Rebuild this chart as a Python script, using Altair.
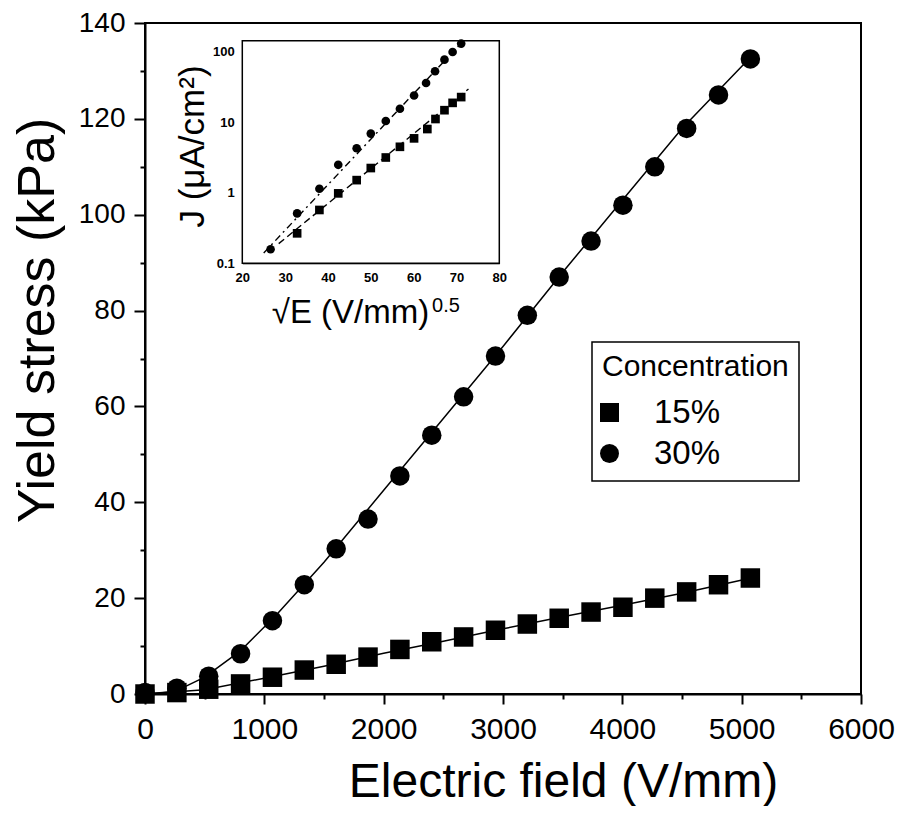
import altair as alt
import pandas as pd

# ---------------- main panel data ----------------
E = [0, 267, 534, 801, 1068, 1335, 1602, 1869, 2136, 2403,
     2670, 2937, 3204, 3471, 3738, 4005, 4272, 4539, 4806, 5073]
tau_15 = [0.0, 0.3, 1.0, 2.1, 3.5, 5.0, 6.2, 7.7, 9.3, 10.9,
          11.9, 13.3, 14.6, 15.8, 17.1, 18.1, 20.0, 21.3, 22.8, 24.2]
tau_30 = [0.3, 1.2, 3.7, 8.4, 15.3, 22.8, 30.3, 36.5, 45.5, 54.0,
          62.0, 70.5, 79.0, 87.0, 94.5, 102.0, 110.0, 118.0, 125.0, 132.5]

fit15_E = [0, 500, 1000, 1500, 2000, 2500, 3000, 3500, 4000, 4500, 5080]
fit15_tau = [0.0, 0.9, 3.3, 5.8, 8.5, 11.0, 13.6, 16.1, 18.5, 21.0, 24.2]
fit30_E = [0, 250, 500, 800, 1100, 1500, 2000, 2500, 3000, 3500, 4000, 4500, 5080]
fit30_tau = [0.0, 0.5, 3.5, 9.0, 16.5, 27.5, 42.5, 57.5, 72.5, 88.0, 103.0, 118.0, 133.0]

# ---------------- inset data ----------------
sqrtE_30 = [26.6, 32.8, 38.0, 42.4, 46.7, 50.0, 53.5, 56.8, 60.1, 62.9, 65.0, 67.2, 69.1, 71.1]
J_30 = [0.158, 0.51, 1.14, 2.49, 4.27, 6.9, 10.4, 15.5, 23.9, 36.0, 52.7, 77.0, 99.0, 130.0]
sqrtE_15 = [32.8, 38.0, 42.4, 46.7, 50.0, 53.5, 56.8, 60.1, 63.2, 65.1, 67.2, 69.1, 71.1]
J_15 = [0.266, 0.57, 0.98, 1.51, 2.24, 3.16, 4.48, 5.9, 8.0, 11.1, 14.8, 18.8, 22.7]

fitJ30_x = [25.0, 71.5]
fitJ30_y = [0.14, 140.0]
fitJ15_x = [28.5, 72.8]
fitJ15_y = [0.19, 29.5]

inset_x_dom = [20, 80]
inset_y_dom = [0.1, 143]

# superscript of the inset x title, anchored in inset data units
sup_text = ["0.5"]
sup_x = [64.3]
sup_y = [0.0205]

concs = ["15%", "30%"]

# ---------------- tables ----------------
main_pts = pd.DataFrame({
    "E": E + E,
    "tau": tau_15 + tau_30,
    "conc": [concs[0]] * len(E) + [concs[1]] * len(E),
})
main_fit = pd.DataFrame({
    "E": fit15_E + fit30_E,
    "tau": fit15_tau + fit30_tau,
    "conc": [concs[0]] * len(fit15_E) + [concs[1]] * len(fit30_E),
})
inset_pts = pd.DataFrame({
    "s": sqrtE_15 + sqrtE_30,
    "J": J_15 + J_30,
    "conc": [concs[0]] * len(sqrtE_15) + [concs[1]] * len(sqrtE_30),
})
fit30_df = pd.DataFrame({"s": fitJ30_x, "J": fitJ30_y})
fit15_df = pd.DataFrame({"s": fitJ15_x, "J": fitJ15_y})
frame_df = pd.DataFrame({"x0": [inset_x_dom[0]], "x1": [inset_x_dom[1]],
                         "y0": [inset_y_dom[0]], "y1": [inset_y_dom[1]]})
sup_df = pd.DataFrame({"s": sup_x, "J": sup_y, "t": sup_text})

W, H = 716, 671
FONT = "Liberation Sans"

# ---------------- main panel ----------------
xs = alt.Scale(domain=[0, 6000], nice=False)
ys = alt.Scale(domain=[0, 140], nice=False)

x_axis = alt.Axis(
    title="Electric field (V/mm)",
    values=list(range(0, 6001, 500)),
    format="d",
    labelExpr="datum.value % 1000 == 0 ? datum.label : ''",
    tickSize={"condition": {"test": "datum.value % 1000 == 0", "value": 10}, "value": 5},
    tickWidth=2, domainWidth=2, domainColor="black", tickColor="black",
    labelFontSize=30, labelColor="black", labelPadding=10, labelFlush=False,
    titleFontSize=48, titleFontWeight="normal", titleColor="black",
    titleX=418, titleY=102, titleBaseline="alphabetic", titleAlign="center",
    grid=False, orient="bottom",
)
y_axis = alt.Axis(
    title="Yield stress (kPa)",
    values=list(range(0, 141, 10)),
    format="d",
    labelExpr="datum.value % 20 == 0 ? datum.label : ''",
    tickSize={"condition": {"test": "datum.value % 20 == 0", "value": 11}, "value": 5},
    tickWidth=2, domainWidth=2, domainColor="black", tickColor="black",
    labelFontSize=28, labelColor="black", labelPadding=9, labelFlush=False,
    titleFontSize=52, titleFontWeight="normal", titleColor="black",
    titleX=-92, titleY=297, titleBaseline="alphabetic", titleAlign="center",
    grid=False, orient="left",
)

main_lines = alt.Chart(main_fit).mark_line(color="black", strokeWidth=1.5).encode(
    x=alt.X("E:Q", scale=xs, axis=x_axis),
    y=alt.Y("tau:Q", scale=ys, axis=y_axis),
    detail="conc:N",
)
main_points = alt.Chart(main_pts).mark_point(filled=True, color="black", opacity=1, size=380).encode(
    x=alt.X("E:Q", scale=xs),
    y=alt.Y("tau:Q", scale=ys),
    shape=alt.Shape("conc:N",
                    scale=alt.Scale(domain=concs, range=["square", "circle"]),
                    legend=alt.Legend(title="Concentration", orient="none",
                                      legendX=447, legendY=319)),
)
main = alt.layer(main_lines, main_points)

# ---------------- inset ----------------
ixs = alt.Scale(domain=inset_x_dom, range=[97.3, 354.3], nice=False)
iys = alt.Scale(type="log", domain=inset_y_dom, range=[240.3, 17.7], nice=False)

ix_axis = alt.Axis(
    title="√E (V/mm)",
    values=list(range(20, 81, 10)),
    orient="bottom", offset=-(H - 240.3),
    ticks=False, domainColor="black", domainWidth=1,
    labelFontSize=13, labelFontWeight="bold", labelColor="black", labelPadding=8,
    labelFlush=False,
    titleFontSize=33, titleFontWeight="normal", titleColor="black",
    titleX=205, titleY=59, titleBaseline="alphabetic", titleAlign="center", grid=False,
)
iy_axis = alt.Axis(
    title="J (μA/cm²)",
    values=[0.1, 1, 10, 100],
    format="~g",
    orient="left", offset=-97.3,
    ticks=False, domainColor="black", domainWidth=1,
    labelFontSize=13, labelFontWeight="bold", labelColor="black", labelPadding=8,
    labelFlush=False,
    titleFontSize=35, titleFontWeight="normal", titleColor="black",
    titleX=-39, titleY=123, titleBaseline="alphabetic", titleAlign="center", grid=False,
)

inset_frame = alt.Chart(frame_df).mark_rect(fill="white", stroke="black", strokeWidth=1.5).encode(
    x=alt.X("x0:Q", scale=ixs, axis=ix_axis),
    x2="x1:Q",
    y=alt.Y("y0:Q", scale=iys, axis=iy_axis),
    y2="y1:Q",
)
inset_l30 = alt.Chart(fit30_df).mark_line(color="black", strokeWidth=1.4,
                                          strokeDash=[7, 4, 2, 4]).encode(
    x=alt.X("s:Q", scale=ixs), y=alt.Y("J:Q", scale=iys))
inset_l15 = alt.Chart(fit15_df).mark_line(color="black", strokeWidth=1.4,
                                          strokeDash=[7, 4]).encode(
    x=alt.X("s:Q", scale=ixs), y=alt.Y("J:Q", scale=iys))
inset_points = alt.Chart(inset_pts).mark_point(filled=True, color="black", opacity=1, size=75).encode(
    x=alt.X("s:Q", scale=ixs),
    y=alt.Y("J:Q", scale=iys),
    shape=alt.Shape("conc:N",
                    scale=alt.Scale(domain=concs, range=["square", "circle"]),
                    legend=None),
)
inset_sup = alt.Chart(sup_df).mark_text(
    align="left", baseline="alphabetic", fontSize=20, color="black", font=FONT
).encode(
    x=alt.X("s:Q", scale=ixs),
    y=alt.Y("J:Q", scale=iys),
    text="t:N",
)
inset = alt.layer(inset_frame, inset_l30, inset_l15, inset_points, inset_sup)

chart = (
    alt.layer(main, inset)
    .resolve_scale(x="independent", y="independent", shape="independent")
    .properties(
        width=W, height=H,
        autosize=alt.AutoSizeParams(type="none"),
        padding={"left": 137, "top": 15, "right": 37, "bottom": 112},
        background="white",
    )
    .configure(font=FONT)
    .configure_view(stroke="black", strokeWidth=2)
    .configure_legend(
        strokeColor="black", strokeWidth=1.5, padding=10, fillColor="white",
        titleFontSize=30, titleFontWeight="normal", titleColor="black", titlePadding=14,
        titleLimit=400, labelLimit=400,
        labelFontSize=33, labelColor="black", labelOffset=28, symbolOffset=-9,
        symbolSize=360, symbolFillColor="black", symbolStrokeColor="black",
        symbolStrokeWidth=0, rowPadding=7,
    )
)

chart.save("out.html", embed_options={"renderer": "svg", "actions": False})
